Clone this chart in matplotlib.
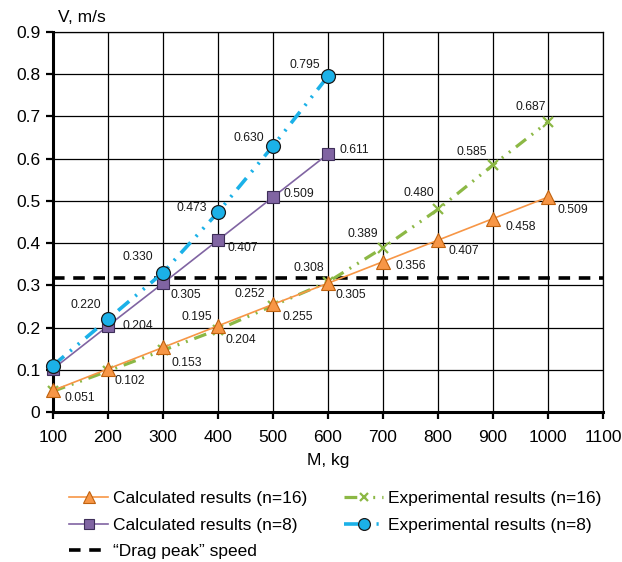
import matplotlib
matplotlib.use("Agg")
import matplotlib.pyplot as plt

plt.rcParams['font.family'] = ['Liberation Sans', 'DejaVu Sans']

# ---- data ----
mass16 = [100, 200, 300, 400, 500, 600, 700, 800, 900, 1000]
calc16 = [0.051, 0.102, 0.153, 0.204, 0.255, 0.305, 0.356, 0.407, 0.458, 0.509]
exp16 = [0.049, 0.097, 0.146, 0.195, 0.252, 0.308, 0.389, 0.480, 0.585, 0.687]
exp16_labeled = [False, False, False, True, True, True, True, True, True, True]

mass8 = [100, 200, 300, 400, 500, 600]
calc8 = [0.102, 0.204, 0.305, 0.407, 0.509, 0.611]
calc8_labeled = [False, True, True, True, True, True]
exp8 = [0.110, 0.220, 0.330, 0.473, 0.630, 0.795]
exp8_labeled = [False, True, True, True, True, True]

drag_peak = 0.318

x_ticks = [100, 200, 300, 400, 500, 600, 700, 800, 900, 1000, 1100]
y_ticks = [0, 0.1, 0.2, 0.3, 0.4, 0.5, 0.6, 0.7, 0.8, 0.9]
y_tick_labels = ["0", "0.1", "0.2", "0.3", "0.4", "0.5", "0.6", "0.7", "0.8", "0.9"]

series_names = ["Calculated results (n=16)", "Calculated results (n=8)",
                "\u201cDrag peak\u201d speed",
                "Experimental results (n=16)", "Experimental results (n=8)"]

# label offsets in pixels (dx, dy), styling only
off_calc16 = [(12, -8), (7, -12), (8, -16), (7, -14), (9, -13), (7, -12), (12, -4), (10, -11), (12, -8), (9, -13)]
off_exp16 = [(0, 0)] * 3 + [(-6, 13), (-8, 12), (-4, 14), (-5, 14), (-4, 16), (-6, 13), (-2, 15)]
off_calc8 = [(0, 0), (15, 0), (7, -12), (9, -8), (10, 3), (11, 4)]
off_exp8 = [(0, 0), (-7, 14), (-10, 16), (-11, 4), (-9, 8), (-8, 11)]

DPI = 100
fig = plt.figure(figsize=(6.22, 5.62), dpi=DPI)
ax = fig.add_axes([0.0852, 0.2669, 0.8843, 0.6762])

c_orange = '#F79646'
c_orange_e = '#C0620F'
c_purple = '#8064A2'
c_purple_e = '#3F2F5A'
c_green = '#8CB845'
c_blue = '#1BB1E8'

pt = 72.0 / DPI  # points per pixel

ax.plot(mass16, calc16, color=c_orange, lw=1.2, marker='^', ms=10,
        mfc=c_orange, mec=c_orange_e, mew=0.8, zorder=5, label=series_names[0], clip_on=False)
ax.plot(mass8, calc8, color=c_purple, lw=1.2, marker='s', ms=8,
        mfc=c_purple, mec=c_purple_e, mew=0.8, zorder=5, label=series_names[1], clip_on=False)
ax.plot(mass16, exp16, color=c_green, lw=2.3, ls=(0, (4, 2.2, 0.6, 2.2, 0.6, 2.2)),
        marker='x', ms=7, mec=c_green, mew=1.6, zorder=4, label=series_names[3], clip_on=False)
ax.plot(mass8, exp8, color=c_blue, lw=2.6, ls=(0, (4, 2.2, 0.6, 2.2, 0.6, 2.2)),
        marker='o', ms=10, mfc=c_blue, mec='#1A1A1A', mew=0.9, zorder=6,
        label=series_names[4], clip_on=False)
ax.axhline(drag_peak, color='black', lw=2.6, ls=(0, (3.2, 2.4)), zorder=3,
           label=series_names[2])

lab_fs = 8.7
for x, y, (dx, dy) in zip(mass16, calc16, off_calc16):
    ax.annotate(f"{y:.3f}", (x, y), xytext=(dx * pt, dy * pt), textcoords='offset points',
                ha='left', va='center', fontsize=lab_fs, color='#1A1A1A', zorder=8)
for x, y, (dx, dy), show in zip(mass16, exp16, off_exp16, exp16_labeled):
    if show:
        ax.annotate(f"{y:.3f}", (x, y), xytext=(dx * pt, dy * pt), textcoords='offset points',
                    ha='right', va='center', fontsize=lab_fs, color='#1A1A1A', zorder=8)
for x, y, (dx, dy), show in zip(mass8, calc8, off_calc8, calc8_labeled):
    if show:
        ax.annotate(f"{y:.3f}", (x, y), xytext=(dx * pt, dy * pt), textcoords='offset points',
                    ha='left', va='center', fontsize=lab_fs, color='#1A1A1A', zorder=8)
for x, y, (dx, dy), show in zip(mass8, exp8, off_exp8, exp8_labeled):
    if show:
        ax.annotate(f"{y:.3f}", (x, y), xytext=(dx * pt, dy * pt), textcoords='offset points',
                    ha='right', va='center', fontsize=lab_fs, color='#1A1A1A', zorder=8)

ax.set_xlim(100, 1100)
ax.set_ylim(0, 0.9)
ax.set_xticks(x_ticks)
ax.set_yticks(y_ticks)
ax.set_yticklabels(y_tick_labels)
ax.tick_params(axis='both', labelsize=12.5, length=5, width=1.6, direction='out', color='black')
ax.tick_params(axis='x', pad=8)
ax.tick_params(axis='y', pad=4)
ax.grid(True, color='black', lw=0.9, zorder=0)
ax.set_axisbelow(True)
for s in ['left', 'bottom']:
    ax.spines[s].set_linewidth(2.2)
for s in ['top', 'right']:
    ax.spines[s].set_linewidth(0.9)

ax.set_xlabel("M, kg", fontsize=12.5, labelpad=6)
fig.text(58 / 622, 1 - 17 / 562, "V, m/s", fontsize=12.5, ha='left', va='center')

handles, labels = ax.get_legend_handles_labels()
order = [labels.index(n) for n in series_names]
handles = [handles[i] for i in order]
labels = [labels[i] for i in order]
fig.legend(handles, labels, ncol=2, loc='upper left', bbox_to_anchor=(69 / 622, 1 - 491 / 562),
           frameon=False, fontsize=12.5, handlelength=2.25, handletextpad=0.3,
           columnspacing=2.1, labelspacing=0.65, borderaxespad=0, borderpad=0,
           markerscale=0.85)

fig.savefig("out.png", dpi=DPI)
